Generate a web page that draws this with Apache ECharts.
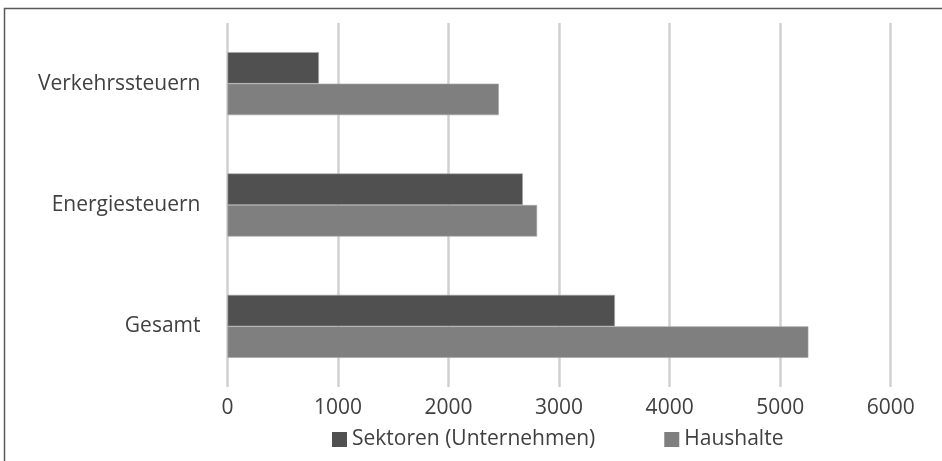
<!DOCTYPE html>
<html><head><meta charset="utf-8">
<script src="https://cdn.jsdelivr.net/npm/echarts@6/dist/echarts.min.js"></script>
<style>html,body{margin:0;padding:0;background:#fff}#c{width:942px;height:461px}</style>
</head><body><div id="c"></div>
<script>
const categories = ['Verkehrssteuern', 'Energiesteuern', 'Gesamt'];
const seriesNames = ['Sektoren (Unternehmen)', 'Haushalte'];
const sektoren = [827, 2672, 3505];
const haushalte = [2455, 2801, 5255];
const xTicks = [0, 1000, 2000, 3000, 4000, 5000, 6000];

const chart = echarts.init(document.getElementById('c'), null, {renderer: 'canvas'});
const font = '"Open Sans", sans-serif';
chart.setOption({
  animation: false,
  backgroundColor: '#fff',
  graphic: [{
    type: 'rect', silent: true,
    shape: {x: 4.5, y: 8.5, width: 2000, height: 2000},
    style: {fill: 'none', stroke: '#595959', lineWidth: 1.5}
  }],
  grid: {left: 227.5, right: 51.3, top: 23, bottom: 74},
  legend: {
    data: seriesNames,
    left: 332, top: 429, padding: 0,
    itemWidth: 15, itemHeight: 15, itemGap: 69,
    icon: 'rect',
    itemStyle: {borderWidth: 0},
    textStyle: {fontFamily: font, fontSize: 21, color: '#404040'}
  },
  xAxis: {
    type: 'value', min: xTicks[0], max: xTicks[xTicks.length-1], interval: 1000,
    axisLine: {show: false}, axisTick: {show: false},
    splitLine: {show: true, lineStyle: {color: '#d0d0d0', width: 2.5}},
    axisLabel: {fontFamily: font, fontSize: 21, color: '#404040', margin: 11,
      formatter: v => String(v)}
  },
  yAxis: {
    type: 'category', data: categories, inverse: true,
    axisLine: {show: false}, axisTick: {show: false},
    axisLabel: {fontFamily: font, fontSize: 21, color: '#404040', margin: 27}
  },
  series: [
    {name: seriesNames[0], type: 'bar', data: sektoren, barWidth: 31.5, barGap: '0%',
     itemStyle: {color: '#505050', borderColor: '#a6a6a6', borderWidth: 0.6}},
    {name: seriesNames[1], type: 'bar', data: haushalte, barWidth: 31.5, barGap: '0%',
     itemStyle: {color: '#7f7f7f', borderColor: '#a6a6a6', borderWidth: 0.6}}
  ]
});
</script></body></html>
